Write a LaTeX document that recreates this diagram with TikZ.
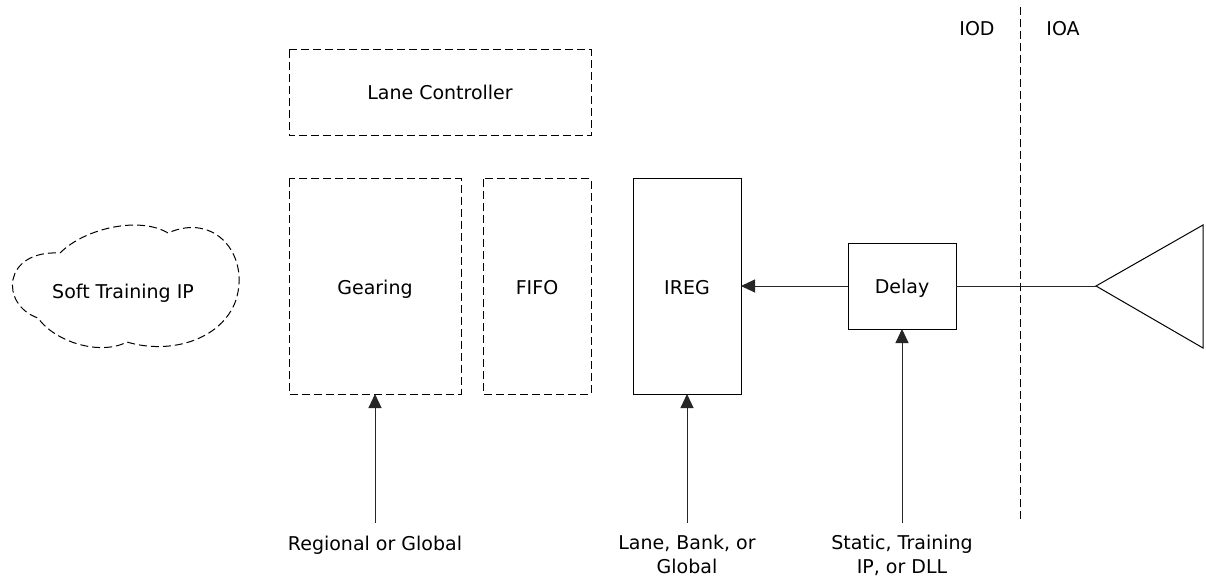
\documentclass[tikz,border=0pt]{standalone}
\usepackage{fontspec}
\setmainfont{DejaVu Sans}
\usetikzlibrary{arrows.meta}
\begin{document}
\begin{tikzpicture}[x=1pt,y=-1pt,
  every node/.style={font=\fontsize{19}{23}\selectfont, inner sep=0pt, anchor=base},
  dbox/.style={draw=black, line width=1pt, dash pattern=on 8pt off 4pt},
  sbox/.style={draw=black, line width=1pt},
  conn/.style={draw=black!85, line width=1pt},
  arr/.style={conn, -{Triangle[length=14pt,width=13pt]}},
  lbl/.style={align=center, font=\fontsize{19}{23.5}\selectfont}]
\useasboundingbox (0,0) rectangle (1206,577);
% boxes
\draw[dbox] (289,50) rectangle (591,136);
\node (lc) at (440,100) {Lane Controller};
\draw[dbox] (289,179) rectangle (461,394);
\node (gear) at (375,294) {Gearing};
\coordinate (gearb) at (375,394);
\draw[dbox] (483,179) rectangle (591,394);
\node (fifo) at (537,294) {FIFO};
\draw[sbox] (633,179) rectangle (741,394);
\node (ireg) at (687,294) {IREG};
\coordinate (iregb) at (687,394);
\coordinate (iregr) at (741,286);
\draw[sbox] (848,243) rectangle (956,329);
\node (delay) at (902,293) {Delay};
\coordinate (delayl) at (848,286);
\coordinate (delayr) at (956,286);
\coordinate (delayb) at (902,329);
% triangle
\coordinate (apex) at (1096,286);
\draw[sbox, line join=miter] (apex) -- (1203,225) -- (1203,348) -- cycle;
% cloud
\draw[dbox] (60,253) .. controls (85,228) and (140,216) .. (168,233)
  .. controls (215,212) and (250,255) .. (236,300)
  .. controls (222,340) and (170,355) .. (127,342)
  .. controls (100,356) and (55,342) .. (38,318)
  .. controls (0,305) and (2,250) .. (60,253) -- cycle;
\node (cloud) at (123,298) {Soft Training IP};
% divider
\draw[dbox] (1020,7) -- (1020,519);
\node (iod) at (977,36) {IOD};
\node (ioa) at (1063,36) {IOA};
% connectors
\draw[arr] (delayl) -- (iregr);
\draw[conn] (delayr) -- (apex);
\node[lbl] (l1) at (375,550) {Regional or Global};
\node[lbl] (l2) at (687,573) {Lane, Bank, or\\Global};
\node[lbl] (l3) at (902,573) {Static, Training\\IP, or DLL};
\coordinate (s1) at (375,523);
\coordinate (s2) at (687,523);
\coordinate (s3) at (902,523);
\draw[arr] (s1) -- (gearb);
\draw[arr] (s2) -- (iregb);
\draw[arr] (s3) -- (delayb);
\end{tikzpicture}
\end{document}
